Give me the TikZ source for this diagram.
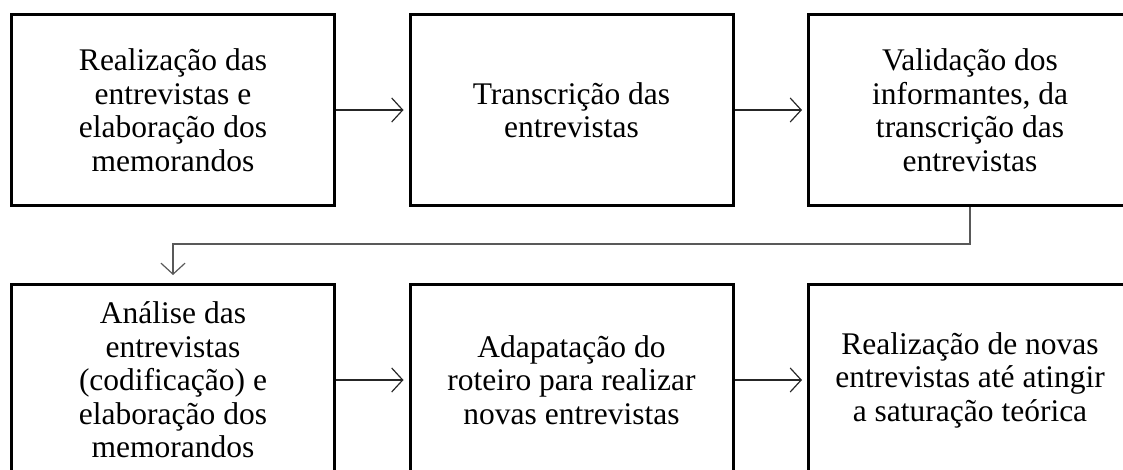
\documentclass[tikz,border=0pt]{standalone}
\usepackage{fontspec}
\setmainfont{Liberation Serif}
\usetikzlibrary{arrows.meta}
\begin{document}
\begin{tikzpicture}[x=1pt,y=-1pt,
  box/.style={draw=black,line width=3pt,minimum width=323pt,minimum height=191pt,
    align=center,inner sep=0pt,font=\fontsize{31.5}{33.5}\selectfont},
  flow/.style={draw=black!85,line width=1.2pt,-{Straight Barb[length=11pt,width=24pt,line width=1.2pt]},shorten >=5pt},
  link/.style={draw=black!65,line width=1.2pt,-{Straight Barb[length=11pt,width=24pt,line width=1.2pt]},shorten >=8pt}]
\useasboundingbox (0,0) rectangle (1123,470);
\node[box] (b1) at (173,110) {Realização das\\entrevistas e\\elaboração dos\\memorandos};
\node[box] (b2) at (571.5,110) {Transcrição das\\entrevistas};
\node[box] (b3) at (970,110) {Validação dos\\informantes, da\\transcrição das\\entrevistas};
\node[box] (b4) at (173,380) {Análise das\\entrevistas\\(codificação) e\\elaboração dos\\memorandos};
\node[box] (b5) at (571.5,380) {Adapatação do\\roteiro para realizar\\novas entrevistas};
\node[box] (b6) at (970,380) {Realização de novas\\entrevistas até atingir\\a saturação teórica};
\draw[flow] (b1) -- (b2);
\draw[flow] (b2) -- (b3);
\draw[link] (b3.south) -- ++(0,37) -| (b4.north);
\draw[flow] (b4) -- (b5);
\draw[flow] (b5) -- (b6);
\end{tikzpicture}
\end{document}
